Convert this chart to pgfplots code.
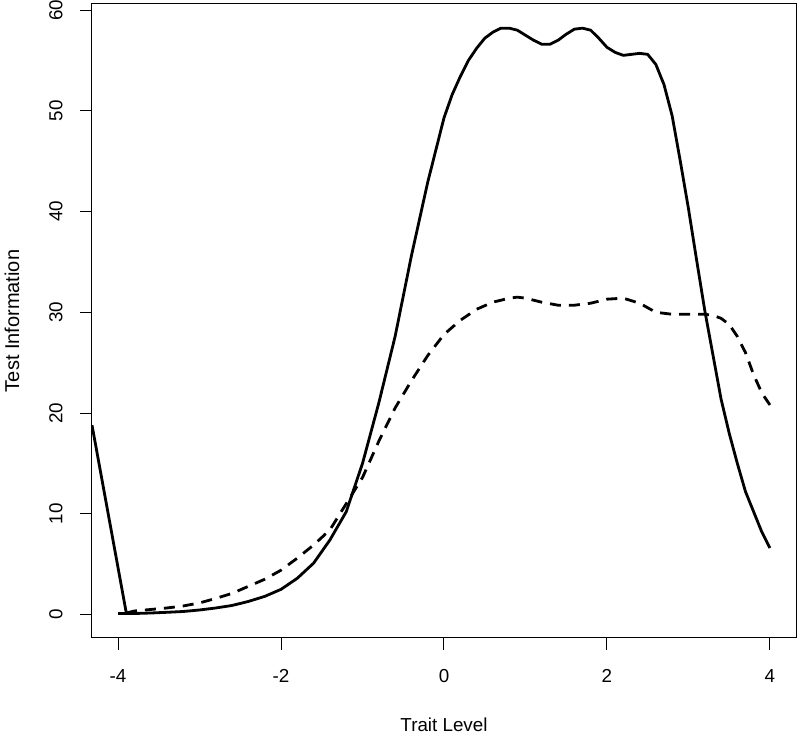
\documentclass[border=0pt]{standalone}
\usepackage{pgfplots}
\pgfplotsset{compat=1.18}
\usepackage{fontspec}
\setmainfont{Liberation Sans}
\pgfplotstableread{
x y
-4.0 0.1
-3.8 0.1
-3.6 0.15
-3.4 0.22
-3.2 0.3
-3.0 0.45
-2.8 0.65
-2.6 0.9
-2.4 1.3
-2.2 1.8
-2.0 2.5
-1.8 3.6
-1.6 5.1
-1.4 7.4
-1.2 10.2
-1.0 15.0
-0.8 21.0
-0.6 27.6
-0.4 35.6
-0.2 42.9
0.0 49.3
0.1 51.6
0.2 53.4
0.3 55.0
0.4 56.2
0.5 57.2
0.6 57.8
0.7 58.2
0.8 58.2
0.9 58.0
1.0 57.5
1.1 57.0
1.2 56.6
1.3 56.6
1.4 57.0
1.5 57.6
1.6 58.1
1.7 58.2
1.8 58.0
1.9 57.2
2.0 56.3
2.1 55.8
2.2 55.5
2.3 55.6
2.4 55.7
2.5 55.6
2.6 54.6
2.7 52.6
2.8 49.5
2.9 45.0
3.0 40.3
3.1 35.2
3.2 30.2
3.3 25.8
3.4 21.4
3.5 18.0
3.6 15.0
3.7 12.2
3.8 10.2
3.9 8.2
4.0 6.6
}\solid
\pgfplotstableread{
x y
-3.9 0.15
-3.8 0.35
-3.6 0.5
-3.4 0.65
-3.2 0.85
-3.0 1.15
-2.8 1.6
-2.6 2.1
-2.4 2.8
-2.2 3.5
-2.0 4.4
-1.8 5.6
-1.6 6.9
-1.4 8.4
-1.2 11.0
-1.0 13.6
-0.8 17.2
-0.6 20.5
-0.4 23.2
-0.2 25.7
0.0 27.8
0.2 29.2
0.4 30.3
0.6 31.0
0.8 31.4
0.9 31.5
1.0 31.4
1.2 31.0
1.4 30.7
1.6 30.7
1.8 30.9
2.0 31.3
2.2 31.4
2.4 30.9
2.6 30.0
2.8 29.8
3.0 29.8
3.2 29.8
3.3 29.7
3.4 29.4
3.5 28.8
3.6 27.6
3.7 26.0
3.8 23.8
3.9 22.0
4.0 20.8
}\dashed
\pgfplotstableread{
x y
-4.32 18.8
-3.9 0.2
}\slant
\begin{document}
\begin{tikzpicture}
\useasboundingbox (-46pt,-47.5pt) rectangle (354pt,319pt);
\begin{axis}[
  at={(0,0)}, anchor=south west,
  scale only axis, width=352pt, height=317pt,
  xmin=-4.32, xmax=4.32, ymin=-2.33, ymax=60.6,
  axis line style={line width=0.5pt},
  xtick={-4,-2,0,2,4}, ytick={0,10,20,30,40,50,60},
  tick align=outside, tick pos=left,
  major tick length=6pt,
  every tick/.style={black, line width=0.5pt},
  /pgf/number format/assume math mode=true,
  tick label style={font=\fontsize{9.4}{11}\selectfont},
  xticklabel style={anchor=center, yshift=-13pt},
  yticklabel style={rotate=90, anchor=center, yshift=12pt},
  xlabel={Trait Level}, ylabel={Test Information},
  label style={font=\fontsize{9.4}{11}\selectfont},
  xlabel style={at={(axis description cs:0.5,0)}, anchor=center, yshift=-43.5pt},
  every axis y label/.style={at={(axis description cs:0,0.5)}, rotate=90, anchor=center, yshift=40pt},
  clip=true,
]
\addplot[black, line width=1.4pt, line join=round] table[x=x,y=y] {\solid};
\addplot[black, line width=1.4pt] table[x=x,y=y] {\slant};
\addplot[black, line width=1.4pt, dash pattern=on 5.5pt off 4pt] table[x=x,y=y] {\dashed};
\end{axis}
\end{tikzpicture}
\end{document}
